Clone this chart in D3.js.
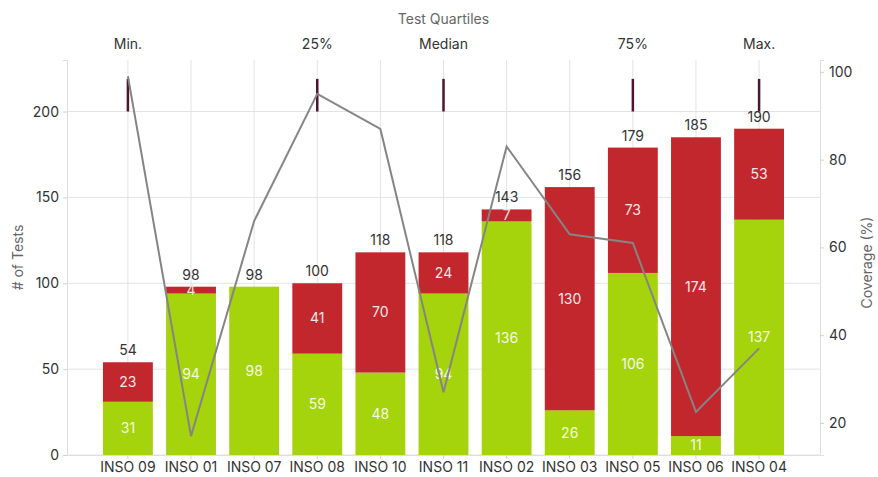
<!DOCTYPE html>
<html><head><meta charset="utf-8">
<script src="https://cdn.jsdelivr.net/npm/d3@7"></script>
<style>
body{margin:0;background:#fff;}
text{font-family:Inter,"Noto Sans",sans-serif;}
</style></head>
<body>
<svg id="chart" width="878" height="477"></svg>
<script>
const categories = ["INSO 09","INSO 01","INSO 07","INSO 08","INSO 10","INSO 11","INSO 02","INSO 03","INSO 05","INSO 06","INSO 04"];
const passed = [31,94,98,59,48,94,136,26,106,11,137];
const failed = [23,4,0,41,70,24,7,130,73,174,53];
const coverage = [99,17,66,95,87,27,83,63,61,22.5,37];
const quartileLabels = ["Min.","25%","Median","75%","Max."];
const quartileCats = ["INSO 09","INSO 08","INSO 11","INSO 05","INSO 04"];
const leftTicks = [0,50,100,150,200];
const rightTicks = [20,40,60,80,100];

const svg = d3.select("#chart");
const L = 67, R = 820, T = 60, B = 455;
const x = d3.scaleBand().domain(categories).range([L, R]).paddingInner(0.21).paddingOuter(0.57);
const y = d3.scaleLinear().domain([0, 230]).range([B, T]);
const y2 = d3.scaleLinear().domain([12.7, 102.7]).range([B, T]);
const cx = c => x(c) + x.bandwidth() / 2;

// grid
const g = svg.append("g");
g.selectAll(".hg").data(leftTicks).join("line")
  .attr("x1", L).attr("x2", R).attr("y1", d => y(d)).attr("y2", d => y(d))
  .attr("stroke", "#e3e3e3").attr("stroke-width", 1);
g.selectAll(".vg").data(categories).join("line")
  .attr("x1", d => cx(d)).attr("x2", d => cx(d)).attr("y1", T).attr("y2", B)
  .attr("stroke", "#e3e3e3").attr("stroke-width", 1);

// axes
const ax = svg.append("g").attr("transform", `translate(${L},0)`)
  .call(d3.axisLeft(y).tickValues(leftTicks).tickSize(4).tickPadding(4));
const ax2 = svg.append("g").attr("transform", `translate(${R},0)`)
  .call(d3.axisRight(y2).tickValues(rightTicks).tickSize(4).tickPadding(5));
const axb = svg.append("g").attr("transform", `translate(0,${B})`)
  .call(d3.axisBottom(x).tickSize(4).tickPadding(3));
[ax, ax2, axb].forEach(a => {
  a.select(".domain").attr("stroke", "#dedede");
  a.selectAll(".tick line").attr("stroke", "#d0d0d0");
  a.selectAll(".tick text").attr("fill", "#333").style("font-size", "14px")
   .style("font-family", "Inter, 'Noto Sans', sans-serif");
});
axb.select(".domain").attr("d", `M${L},0.5H${R}`);

// bars
const data = categories.map((c, i) => ({c, p: passed[i], f: failed[i], cov: coverage[i]}));
const bars = svg.append("g");
bars.selectAll(".pb").data(data).join("rect")
  .attr("x", d => x(d.c)).attr("width", x.bandwidth())
  .attr("y", d => y(d.p)).attr("height", d => y(0) - y(d.p))
  .attr("fill", "#a5d30c");
bars.selectAll(".fb").data(data.filter(d => d.f > 0)).join("rect")
  .attr("x", d => x(d.c)).attr("width", x.bandwidth())
  .attr("y", d => y(d.p + d.f)).attr("height", d => y(d.p) - y(d.p + d.f))
  .attr("fill", "#c3272e");

// bar labels
const lbl = svg.append("g").style("font-size", "14px").attr("text-anchor", "middle");
lbl.selectAll(".pl").data(data).join("text")
  .attr("x", d => cx(d.c)).attr("y", d => y(d.p / 2)).attr("dy", "0.35em")
  .attr("fill", "#f4f8e4").text(d => d.p);
lbl.selectAll(".fl").data(data.filter(d => d.f > 0)).join("text")
  .attr("x", d => cx(d.c)).attr("y", d => y(d.p + d.f / 2)).attr("dy", "0.35em")
  .attr("fill", "#f8e6e6").text(d => d.f);
lbl.selectAll(".tl").data(data).join("text")
  .attr("x", d => cx(d.c)).attr("y", d => y(d.p + d.f) - 7)
  .attr("fill", "#333").text(d => d.p + d.f);

// quartile markers
svg.append("g").selectAll("line").data(quartileCats).join("line")
  .attr("x1", d => cx(d)).attr("x2", d => cx(d))
  .attr("y1", y(200)).attr("y2", y(219))
  .attr("stroke", "#4d1530").attr("stroke-width", 2.5);
svg.append("g").selectAll("text").data(quartileCats).join("text")
  .attr("x", d => cx(d)).attr("y", 49).attr("text-anchor", "middle")
  .attr("fill", "#333").style("font-size", "14px")
  .text((d, i) => quartileLabels[i]);
svg.append("text").attr("x", (L + R) / 2 + 0).attr("y", 24).attr("text-anchor", "middle")
  .attr("fill", "#666").style("font-size", "14px").text("Test Quartiles");

// coverage line
svg.append("path").datum(data)
  .attr("fill", "none").attr("stroke", "#858585").attr("stroke-width", 2)
  .attr("d", d3.line().x(d => cx(d.c)).y(d => y2(d.cov)));

// axis titles
svg.append("text").attr("transform", `translate(23,${(T + B) / 2}) rotate(-90)`)
  .attr("text-anchor", "middle").attr("fill", "#666").style("font-size", "14px").text("# of Tests");
svg.append("text").attr("transform", `translate(872,${(T + B) / 2 + 5}) rotate(-90)`)
  .attr("text-anchor", "middle").attr("fill", "#666").style("font-size", "14px").text("Coverage (%)");
</script>
</body></html>
